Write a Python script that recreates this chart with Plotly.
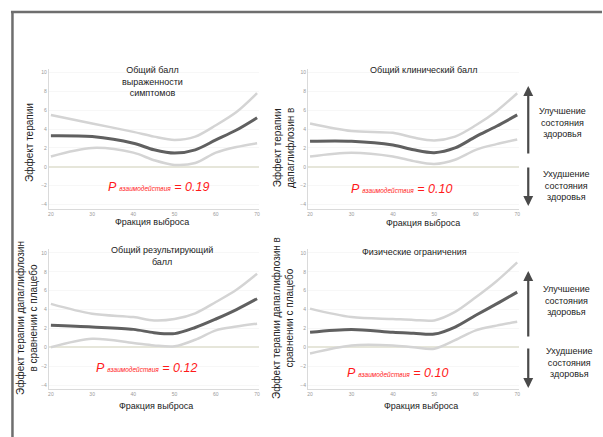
import plotly.graph_objects as go

W, H = 603, 437

# ---------------- data ----------------
ef = [20, 30, 40, 45, 50, 55, 60, 65, 70]

p1_center = [3.3, 3.2, 2.5, 1.8, 1.45, 1.8, 2.85, 3.9, 5.2]
p1_upper = [5.5, 4.6, 3.7, 3.2, 2.85, 3.2, 4.4, 5.8, 7.8]
p1_lower = [1.1, 2.0, 1.5, 0.7, 0.2, 0.4, 1.5, 2.1, 2.5]

p2_center = [2.7, 2.7, 2.3, 1.8, 1.5, 2.0, 3.2, 4.3, 5.5]
p2_upper = [4.6, 3.8, 3.6, 3.1, 2.8, 3.2, 4.4, 5.9, 7.8]
p2_lower = [1.1, 1.5, 1.1, 0.6, 0.3, 0.75, 1.8, 2.4, 2.9]

p3_center = [2.33, 2.15, 1.9, 1.55, 1.45, 2.1, 3.0, 4.0, 5.15]
p3_upper = [4.6, 3.55, 3.2, 2.85, 3.0, 3.6, 4.8, 6.1, 7.8]
p3_lower = [0.0, 0.9, 0.45, 0.2, 0.1, 0.8, 1.8, 2.2, 2.5]

p4_center = [1.6, 1.9, 1.6, 1.5, 1.4, 2.15, 3.4, 4.6, 5.85]
p4_upper = [4.1, 3.2, 3.0, 2.9, 2.85, 3.75, 5.3, 7.0, 9.0]
p4_lower = [-0.65, 0.2, 0.2, 0.0, -0.15, 0.75, 1.8, 2.3, 2.7]

x_ticks = [20, 30, 40, 50, 60, 70]
y_ticks = [-4, -2, 0, 2, 4, 6, 8, 10]

titles = ["Общий балл<br>выраженности<br>симптомов", "Общий клинический балл",
          "Общий результирующий<br>балл", "Физические ограничения"]
p_values = ["0.19", "0.10", "0.12", "0.10"]
x_title = "Фракция выброса"
improve = "Улучшение<br>состояния<br>здоровья"
worsen = "Ухудшение<br>состояния<br>здоровья"

# ---------------- helpers ----------------
def px(x):
    return x / W

def py(y):
    return 1 - y / H

FONT = "Liberation Sans, Arial, sans-serif"

fig = go.Figure()

panels = [
    (p1_center, p1_upper, p1_lower, (48, 259), (68.5, 208.5)),
    (p2_center, p2_upper, p2_lower, (308, 520), (68.5, 208.5)),
    (p3_center, p3_upper, p3_lower, (48, 259), (249, 389)),
    (p4_center, p4_upper, p4_lower, (308, 520), (249, 389)),
]

for i, (c, u, l, (x0, x1), (y0, y1)) in enumerate(panels):
    k = "" if i == 0 else str(i + 1)
    xa, ya = "x" + k, "y" + k
    for series, col, wd in [(u, "#d4d4d4", 2.5), (l, "#d4d4d4", 2.5), (c, "#606060", 3)]:
        fig.add_trace(go.Scatter(x=ef, y=series, mode="lines", xaxis=xa, yaxis=ya,
                                 line=dict(color=col, width=wd, shape="spline", smoothing=0.9),
                                 showlegend=False, hoverinfo="skip"))
    axis_common = dict(showline=True, linecolor="#dadada", linewidth=1, ticks="",
                       tickfont=dict(size=5, color="#9a9a9a", family=FONT))
    fig.update_layout(**{
        "xaxis" + k: dict(domain=[px(x0), px(x1)], range=[19.5, 70.5], tickvals=x_ticks,
                          showgrid=False, zeroline=False, anchor=ya, **axis_common),
        "yaxis" + k: dict(domain=[py(y1), py(y0)], range=[-4.42, 10.42], tickvals=y_ticks,
                          showgrid=True, gridcolor="#f7f7f7", zeroline=True,
                          zerolinecolor="#e6e6da", zerolinewidth=2, anchor=xa, **axis_common),
    })

ann = []

def text(x, y, s, size=9, color="#222", angle=0, **kw):
    ann.append(dict(x=px(x), y=py(y), xref="paper", yref="paper", text=s, showarrow=False,
                    textangle=angle, font=dict(size=size, color=color, family=FONT),
                    xanchor="center", yanchor="middle", **kw))

# panel titles
text(152, 81.5, titles[0])
text(424, 70, titles[1])
text(162, 256, titles[2])
text(415, 252, titles[3])

# x titles
text(152, 222, x_title)
text(423, 223, x_title)
text(156, 406, x_title)
text(421, 406, x_title)

# y titles
text(28, 142, "Эффект терапии", size=10, angle=-90)
text(284, 148, "Эффект терапии<br>дапаглифлозин в", size=10, angle=-90)
text(26, 318, "Эффект терапии дапаглифлозин<br>в сравнении с плацебо", size=10, angle=-90)
text(283, 318, "Эффект терапии дапаглифлозин в<br>сравнении с плацебо", size=10, angle=-90)

# P interaction
def ptext(x, y, v):
    s = ("<i>P <span style='font-size:6.5px'>взаимодействия</span> = " + v + "</i>")
    text(x, y, s, size=12.5, color="#ff1a1a")

ptext(158, 187, p_values[0])
ptext(402, 189, p_values[1])
ptext(146, 368, p_values[2])
ptext(398, 373, p_values[3])

# right-side labels
text(563, 122, improve)
text(567, 185, worsen)
text(567, 300, improve)
text(570, 362, worsen)

# arrows
def arrow(x, ytail, yhead):
    ann.append(dict(x=px(x), y=py(yhead), xref="paper", yref="paper",
                    axref="pixel", ayref="pixel", ax=0, ay=ytail - yhead,
                    showarrow=True, arrowhead=2, arrowsize=0.9,
                    arrowwidth=2.2, arrowcolor="#4a4a4a", text=""))

arrow(529, 155, 86)
arrow(529, 166, 206)
arrow(529, 338, 271)
arrow(529, 347, 388)

# frame
shapes = [
    dict(type="line", xref="paper", yref="paper", x0=px(10), x1=px(603), y0=py(12), y1=py(12),
         line=dict(color="#6e6e6e", width=2.5)),
    dict(type="line", xref="paper", yref="paper", x0=px(11.5), x1=px(11.5), y0=py(11), y1=py(437),
         line=dict(color="#6e6e6e", width=2.5)),
]

fig.update_layout(width=W, height=H, margin=dict(l=0, r=0, t=0, b=0),
                  paper_bgcolor="white", plot_bgcolor="white",
                  annotations=ann, shapes=shapes, font=dict(family=FONT))

fig.write_html("out.html")
